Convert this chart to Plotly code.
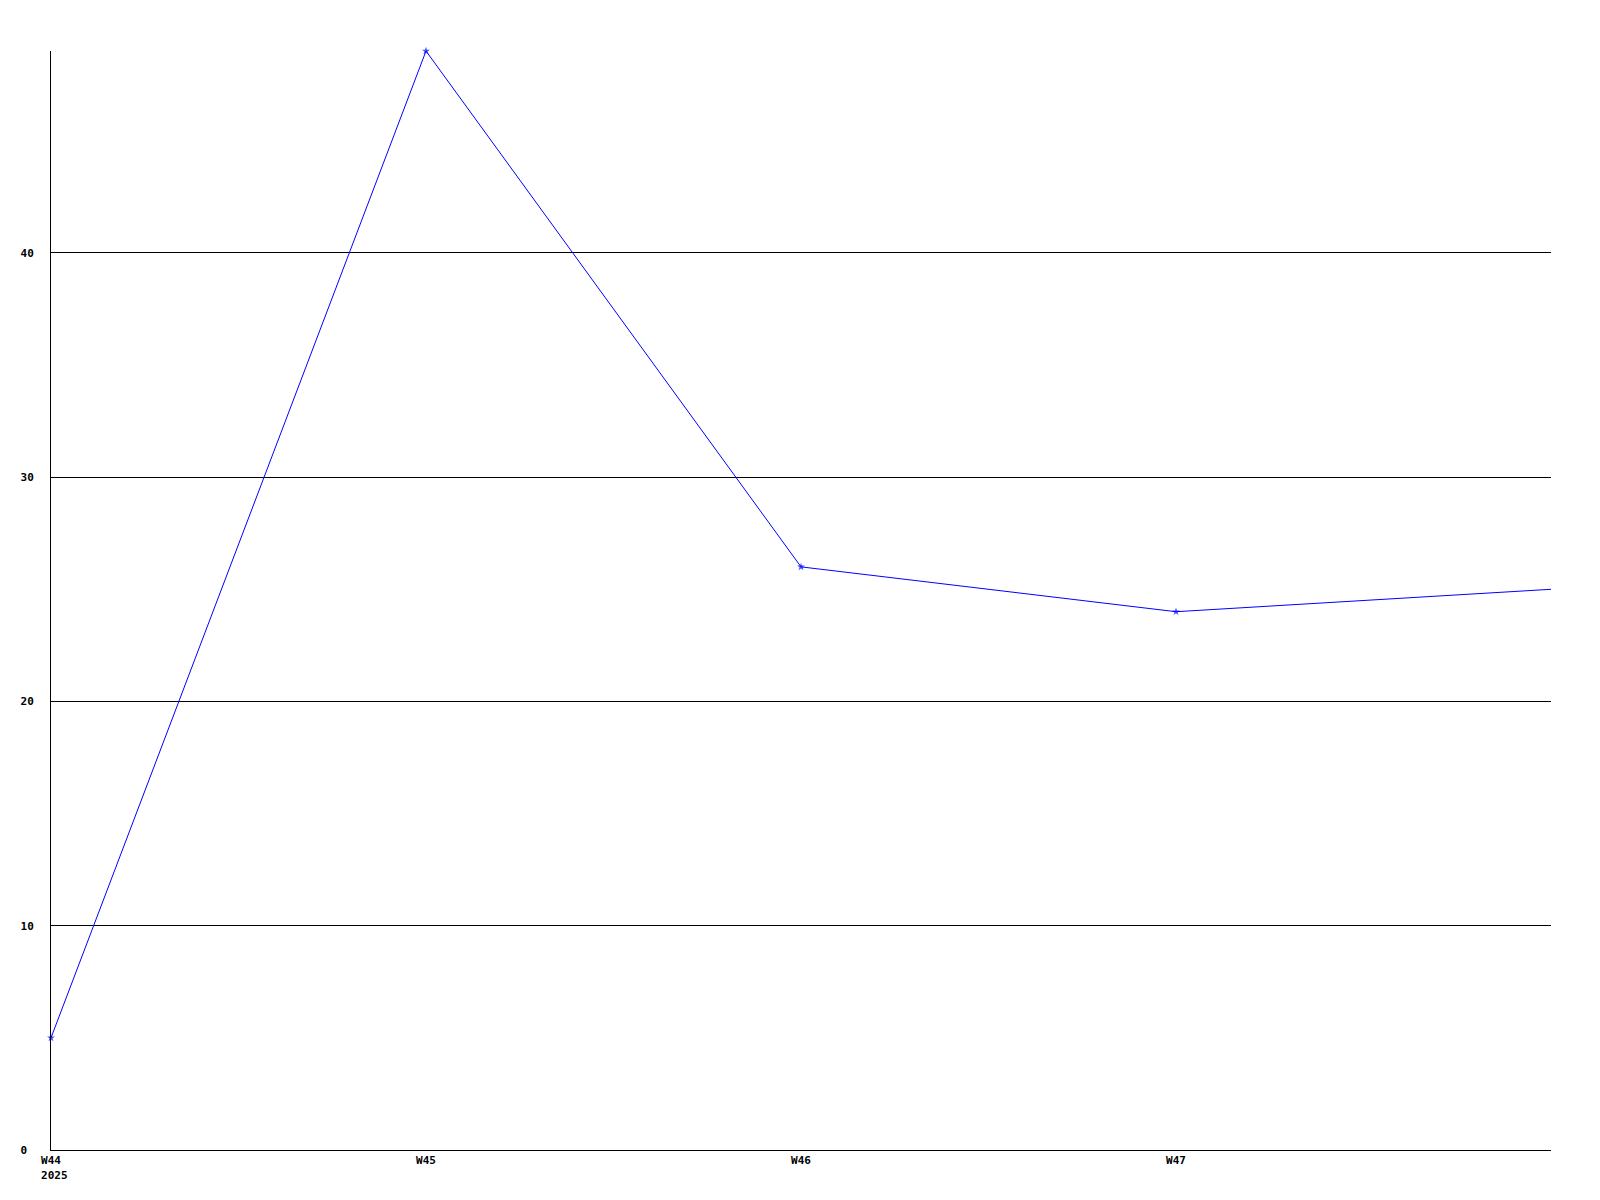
import plotly.graph_objects as go

# Data
weeks = ["W44", "W45", "W46", "W47", "W48"]
values = [5, 49, 26, 24, 25]
x_tick_labels = ["W44<br>\u00a02025", "W45", "W46", "W47"]
y_tick_vals = [0, 10, 20, 30, 40]
y_tick_labels = ["0\u00a0", "10", "20", "30", "40"]

xpos = list(range(len(weeks)))

fig = go.Figure()
fig.add_trace(go.Scatter(
    x=xpos, y=values, mode="lines+markers",
    line=dict(color="#0000FF", width=1),
    marker=dict(symbol="star", size=[6, 6, 6, 6, 0], color="#0000FF",
                line=dict(width=0)),
    cliponaxis=False, hoverinfo="skip", showlegend=False,
))

font = dict(family="DejaVu Sans Mono", size=11, color="#000000", weight="bold")

fig.update_layout(
    autosize=True,
    margin=dict(l=43, r=41, t=43, b=42, autoexpand=False),
    paper_bgcolor="white", plot_bgcolor="white",
    font=font,
    xaxis=dict(
        range=[0, 4], tickmode="array", tickvals=xpos[:4], ticktext=x_tick_labels,
        showgrid=False, zeroline=False, showline=True, linecolor="#000000",
        linewidth=1, ticks="", tickfont=font, fixedrange=True, automargin=False,
    ),
    yaxis=dict(
        range=[0, 49], tickmode="array", tickvals=y_tick_vals, ticktext=y_tick_labels,
        showgrid=True, gridcolor="#000000", gridwidth=1, zeroline=False,
        showline=True, linecolor="#000000", linewidth=1,
        ticks="outside", ticklen=14, tickcolor="rgba(0,0,0,0)", tickfont=font,
        fixedrange=True, automargin=False,
    ),
)

fig.write_html("out.html", config={"displayModeBar": False})
